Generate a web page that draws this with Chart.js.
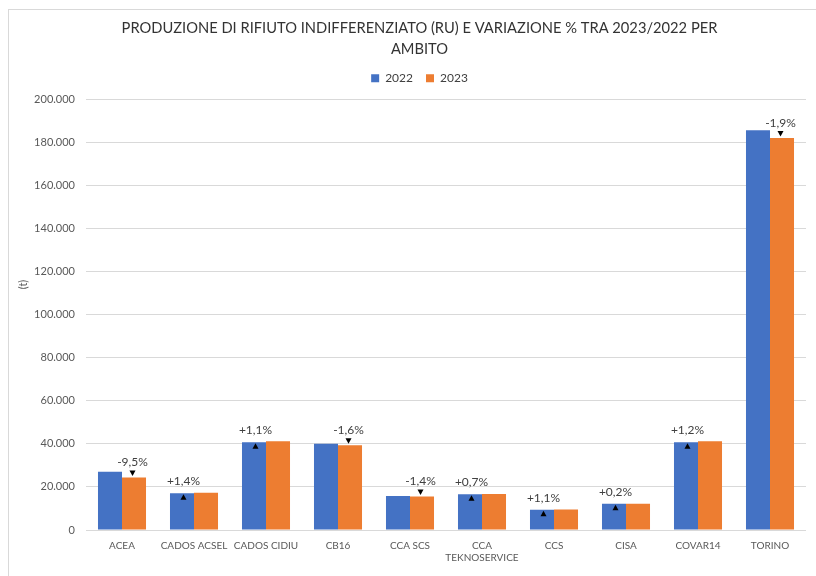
<!DOCTYPE html>
<html>
<head>
<meta charset="utf-8">
<script src="https://cdn.jsdelivr.net/npm/chart.js@4"></script>
<style>
  html, body { margin: 0; padding: 0; background: #fff; overflow: hidden; }
  #wrap { width: 816px; height: 576px; position: relative; }
</style>
</head>
<body>
<div id="wrap"><canvas id="c" width="816" height="576"></canvas></div>
<script>
const categories = ['ACEA', 'CADOS ACSEL', 'CADOS CIDIU', 'CB16', 'CCA SCS', ['CCA', 'TEKNOSERVICE'], 'CCS', 'CISA', 'COVAR14', 'TORINO'];
const values2022 = [27000, 17100, 40800, 40000, 15800, 16600, 9400, 12200, 40700, 185600];
const values2023 = [24430, 17340, 41250, 39360, 15580, 16720, 9500, 12225, 41190, 182100];
const changePct = [-9.5, 1.4, 1.1, -1.6, -1.4, 0.7, 1.1, 0.2, 1.2, -1.9];
const seriesNames = ['2022', '2023'];
const yTicksMax = 200000;
const yTicksStep = 20000;
const titleLines = ['PRODUZIONE DI RIFIUTO INDIFFERENZIATO (RU) E VARIAZIONE % TRA 2023/2022 PER', 'AMBITO'];
const yAxisTitle = '(t)';

const FONT = 'Lato, "Open Sans", sans-serif';

function fmtThousands(v) {
  return String(v).replace(/\B(?=(\d{3})+(?!\d))/g, '.');
}
function fmtPct(p) {
  return (p > 0 ? '+' : '') + p.toFixed(1).replace('.', ',') + '%';
}

const framePlugin = {
  id: 'frame',
  beforeDraw(chart) {
    const ctx = chart.ctx;
    ctx.save();
    ctx.fillStyle = '#ffffff';
    ctx.fillRect(0, 0, chart.width, chart.height);
    ctx.strokeStyle = '#D9D9D9';
    ctx.lineWidth = 1;
    ctx.strokeRect(8.5, 9.5, chart.width + 20, chart.height + 20);
    ctx.restore();
  },
  afterDraw(chart) {
    const ctx = chart.ctx;
    const a = chart.chartArea;
    ctx.save();
    ctx.font = '11px ' + FONT;
    ctx.fillStyle = '#595959';
    ctx.textAlign = 'center';
    ctx.textBaseline = 'middle';
    ctx.translate(23, a.top + (a.bottom - a.top) * 0.43);
    ctx.rotate(-Math.PI / 2);
    ctx.fillText(yAxisTitle, 0, 0);
    ctx.restore();
  }
};

const changePlugin = {
  id: 'changeMarks',
  afterDatasetsDraw(chart) {
    const ctx = chart.ctx;
    const m0 = chart.getDatasetMeta(0);
    const m1 = chart.getDatasetMeta(1);
    ctx.save();
    ctx.font = '12px ' + FONT;
    ctx.textAlign = 'center';
    ctx.textBaseline = 'middle';
    changePct.forEach((p, i) => {
      let x, labelY;
      ctx.fillStyle = '#000000';
      ctx.beginPath();
      if (p >= 0) {
        const b = m0.data[i];
        x = b.x + 1.5;
        const apex = b.y + 1;
        ctx.moveTo(x, apex);
        ctx.lineTo(x + 3, apex + 5.5);
        ctx.lineTo(x - 3, apex + 5.5);
        labelY = b.y - 12;
      } else {
        const b = m1.data[i];
        x = b.x - 1.5;
        const apex = b.y - 1.5;
        ctx.moveTo(x, apex);
        ctx.lineTo(x + 3, apex - 5.5);
        ctx.lineTo(x - 3, apex - 5.5);
        labelY = b.y - 15;
      }
      ctx.closePath();
      ctx.fill();
      ctx.fillStyle = '#404040';
      ctx.fillText(fmtPct(p), x, labelY);
    });
    ctx.restore();
  }
};

new Chart(document.getElementById('c'), {
  type: 'bar',
  data: {
    labels: categories,
    datasets: [
      { label: seriesNames[0], data: values2022, backgroundColor: '#4472C4', borderWidth: 0 },
      { label: seriesNames[1], data: values2023, backgroundColor: '#ED7D31', borderWidth: 0 }
    ]
  },
  options: {
    responsive: false,
    animation: false,
    devicePixelRatio: 1,
    categoryPercentage: 0.667,
    barPercentage: 1.0,
    layout: { padding: { left: 23, right: 0, top: 0, bottom: 2 } },
    plugins: {
      title: {
        display: true,
        text: titleLines,
        color: '#333333',
        font: { family: FONT, size: 14.7, weight: 'normal', lineHeight: 1.4 },
        padding: { top: 18.2, bottom: 0 }
      },
      legend: {
        display: true,
        position: 'top',
        labels: {
          boxWidth: 8,
          boxHeight: 8,
          padding: 13,
          color: '#404040',
          font: { family: FONT, size: 12 }
        }
      },
      tooltip: { enabled: false }
    },
    scales: {
      x: {
        grid: { display: false, drawTicks: false },
        border: { display: false },
        ticks: {
          color: '#595959',
          font: { family: FONT, size: 10 },
          padding: 10,
          maxRotation: 0,
          autoSkip: false
        }
      },
      xTop: {
        type: 'category',
        position: 'top',
        display: true,
        grid: { display: false, drawTicks: false },
        border: { display: false },
        ticks: { display: false },
        afterFit(s) { s.height = 5; }
      },
      y: {
        min: 0,
        max: yTicksMax,
        grid: { color: '#D9D9D9', drawTicks: false, lineWidth: 1 },
        border: { display: false },
        ticks: {
          stepSize: yTicksStep,
          color: '#595959',
          font: { family: FONT, size: 11 },
          padding: 11,
          callback: (v) => fmtThousands(v)
        },
        afterFit(s) { s.width = 63; }
      },
      yRight: {
        type: 'linear',
        position: 'right',
        display: true,
        grid: { display: false, drawTicks: false },
        border: { display: false },
        ticks: { display: false },
        afterFit(s) { s.width = 10; }
      }
    }
  },
  plugins: [framePlugin, changePlugin]
});
</script>
</body>
</html>
